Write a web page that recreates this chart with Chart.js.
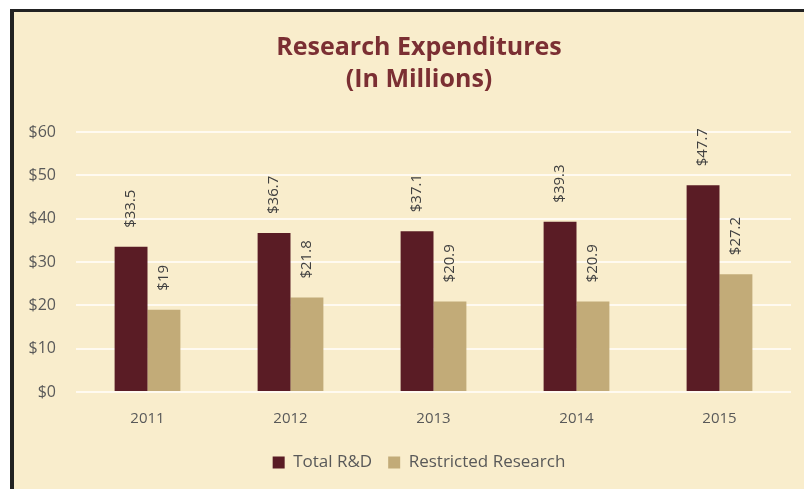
<!DOCTYPE html>
<html>
<head>
<meta charset="utf-8">
<script src="https://cdn.jsdelivr.net/npm/chart.js@4.4.1/dist/chart.umd.min.js"></script>
<style>
html,body{margin:0;padding:0;background:#fff;}
#wrap{position:relative;width:804px;height:489px;}
canvas{display:block;}
</style>
</head>
<body>
<div id="wrap"><canvas id="c" width="804" height="489"></canvas></div>
<script>
const categories = ['2011', '2012', '2013', '2014', '2015'];
const totalRD = [33.5, 36.7, 37.1, 39.3, 47.7];
const restricted = [19, 21.8, 20.9, 20.9, 27.2];
const seriesNames = ['Total R&D', 'Restricted Research'];
const titleLines = ['Research Expenditures', '(In Millions)'];

const FONT = "'Open Sans', sans-serif";

const framePlugin = {
  id: 'frame',
  afterLayout(chart) {
    // shift the title and legend blocks so they are centred like the original
    const shift = 17.5;
    if (chart.titleBlock) { chart.titleBlock.left += shift; chart.titleBlock.right += shift; }
    if (chart.legend) { chart.legend.left += shift; chart.legend.right += shift; }
  },
  beforeDraw(chart) {
    const ctx = chart.ctx;
    ctx.save();
    ctx.fillStyle = '#ffffff';
    ctx.fillRect(0, 0, chart.width, chart.height);
    ctx.fillStyle = '#f9edcc';
    ctx.fillRect(10, 9, chart.width - 10, chart.height - 9);
    ctx.fillStyle = '#222222';
    ctx.fillRect(10, 9, 4, chart.height - 9);
    ctx.fillRect(10, 9, chart.width - 10, 3);
    ctx.restore();
  }
};

const labelPlugin = {
  id: 'vlabels',
  afterDatasetsDraw(chart) {
    const ctx = chart.ctx;
    ctx.save();
    ctx.font = "15px " + FONT;
    ctx.fillStyle = '#404040';
    ctx.textAlign = 'left';
    ctx.textBaseline = 'middle';
    chart.data.datasets.forEach((ds, i) => {
      const meta = chart.getDatasetMeta(i);
      meta.data.forEach((bar, j) => {
        ctx.save();
        ctx.translate(bar.x, bar.y - 19);
        ctx.rotate(-Math.PI / 2);
        ctx.fillText('$' + ds.data[j], 0, 0);
        ctx.restore();
      });
    });
    ctx.restore();
  }
};

new Chart(document.getElementById('c'), {
  type: 'bar',
  data: {
    labels: categories,
    datasets: [
      { label: seriesNames[0], data: totalRD, backgroundColor: '#5a1c25', categoryPercentage: 0.46, barPercentage: 1.0 },
      { label: seriesNames[1], data: restricted, backgroundColor: '#c2ab78', categoryPercentage: 0.46, barPercentage: 1.0 }
    ]
  },
  options: {
    responsive: false,
    animation: false,
    devicePixelRatio: 1,
    layout: { padding: { left: 12, right: 13, top: 32, bottom: 8 } },
    plugins: {
      title: {
        display: true,
        text: titleLines,
        color: '#7b2f33',
        font: { family: FONT, size: 25, weight: 'bold', lineHeight: 1.28 },
        padding: { top: 0, bottom: 36 }
      },
      legend: {
        position: 'bottom',
        labels: {
          color: '#595959',
          font: { family: FONT, size: 17 },
          boxWidth: 12,
          boxHeight: 12,
          padding: 16
        }
      },
      tooltip: { enabled: false }
    },
    scales: {
      x: {
        grid: { display: false },
        border: { display: false },
        ticks: { color: '#595959', font: { family: FONT, size: 15 }, padding: 10 }
      },
      y: {
        min: 0, max: 60,
        afterFit(scale) { scale.width = 64; },
        ticks: { stepSize: 10, color: '#595959', font: { family: FONT, size: 16 }, padding: 20, callback: v => '$' + v },
        grid: { color: '#fffaf0', lineWidth: 2, drawTicks: false },
        border: { display: false }
      }
    }
  },
  plugins: [framePlugin, labelPlugin]
});
</script>
</body>
</html>
